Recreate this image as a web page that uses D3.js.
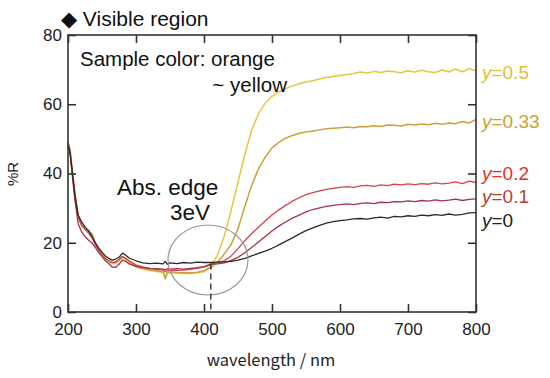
<!DOCTYPE html>
<html><head><meta charset="utf-8">
<script src="https://cdn.jsdelivr.net/npm/d3@7/dist/d3.min.js"></script>
<style>body{margin:0;background:#fff;}svg{display:block;font-family:"Liberation Sans",Arial,sans-serif;}</style>
</head><body><svg id="c" width="550" height="378"></svg>
<script>
const wavelengths = [200,203,206,210,215,220,225,230,235,240,245,250,255,260,265,270,275,280,285,290,
 300,310,320,330,340,343,346,350,360,370,380,390,400,
 410,420,430,440,450,460,470,480,490,500,510,520,530,540,550,
 560,570,580,590,600,610,620,630,640,650,660,670,680,690,700,710,720,730,740,750,760,770,780,790,800];

const y05 = [48.5,46.5,41,34,27,25,24,23.4,22.2,19.8,18.2,16.8,15.4,14.6,14.0,14.0,14.8,15.8,15.2,14.4,
 13.0,12.4,12.0,11.7,11.4,9.5,11.2,11.4,11.2,11.1,11.1,11.3,11.6,
 13.2,16.5,22,29.5,37.5,45.5,52.5,57.2,60.3,62.3,63.6,64.5,65.3,65.9,66.4,
 66.8,67.3,67.7,68.0,68.3,68.6,68.9,69.3,69.0,69.5,69.2,69.6,69.4,69.1,69.7,69.3,69.8,69.4,69.2,69.9,69.3,70.2,69.4,70.3,69.6];

const y033 = [49,47,41.5,34.5,27.5,25.2,24.2,23.6,22.6,20.2,18.4,17.0,15.6,14.8,14.2,14.2,15.0,16.0,15.4,14.5,
 13.2,12.6,12.2,11.9,11.6,9.8,11.5,11.6,11.4,11.3,11.3,11.5,11.9,
 12.8,14.3,16.8,19.5,24,30.5,36.5,41.3,44.7,47.4,49.0,50.2,51.0,51.6,52.0,
 52.3,52.6,52.9,53.1,53.2,53.4,53.2,53.6,53.5,53.8,53.6,54.0,53.9,53.7,54.2,54.0,54.3,54.1,54.5,54.2,54.6,54.4,55.0,54.6,55.6];

const y02 = [49,46.5,41,34,27.5,25,23.8,22.8,21.5,19.6,17.8,16.5,15.4,14.8,14.3,14.5,15.2,16.0,15.5,14.8,
 13.6,13.0,12.6,12.3,12.1,11.6,12.0,12.1,12.0,12.1,12.3,12.6,13.0,
 13.7,14.3,14.8,16.2,18.3,20.6,22.6,24.5,26.3,28.0,29.5,30.8,32.0,33.0,33.9,
 34.5,35.0,35.4,35.7,36.0,36.2,36.0,36.4,36.6,36.3,36.7,36.5,36.9,36.7,37.0,36.8,37.1,36.9,37.3,37.0,37.2,37.6,37.1,37.8,37.4];

const y01 = [48.5,46,40,32.5,25.5,23.2,21.8,20.8,20.0,18.7,17.2,16.0,14.8,14.0,13.0,12.9,13.8,15.0,14.6,13.9,
 13.2,12.8,12.6,12.5,12.4,12.2,12.5,12.4,12.5,12.4,12.6,12.8,13.1,
 13.8,13.9,14.2,14.9,15.8,17.1,18.6,20.2,21.8,23.4,24.8,26.0,27.1,28.0,28.9,
 29.6,30.1,30.5,30.8,31.0,31.2,31.0,31.4,31.5,31.3,31.7,31.6,31.9,31.8,32.1,31.9,32.2,32.0,32.4,32.1,32.3,32.6,32.2,32.5,32.7];

const y00 = [48,46,41,34,28,26,24.6,23.5,22,20,18.5,17.3,16.2,15.5,15,15.3,15.8,17,16.4,15.6,
 14.8,14.2,14.0,14.1,13.9,14.6,13.8,14.2,14.0,14.3,14.1,14.4,14.3,
 14.3,14.4,14.5,14.6,15.0,15.5,16.2,16.9,17.6,18.4,19.4,20.4,21.4,22.5,23.5,
 24.3,25.0,25.7,26.1,26.4,26.6,26.9,27.0,26.8,27.2,27.4,27.1,27.6,27.5,27.8,27.6,28.0,27.8,28.1,27.9,28.3,28.0,28.2,28.6,28.7];

const seriesNames = ["0.5","0.33","0.2","0.1","0"];
const seriesValues = [y05,y033,y02,y01,y00];
const lineColors = ["#e8c63c","#cfa03a","#d8404c","#a0344a","#2a2a2a"];
const labelColors = ["#e0c030","#c8a032","#e0302a","#b04030","#222222"];
const labelY = [79,128,180,203,227];

const xTicks = [200,300,400,500,600,700,800];
const yTicks = [0,20,40,60,80];
const edgeWavelength = 410;

const svg = d3.select("#c");
const x = d3.scaleLinear().domain([200,800]).range([68,476]);
const y = d3.scaleLinear().domain([0,80]).range([312,35]);

// curves
const line = d3.line().x(d=>x(d[0])).y(d=>y(d[1]));
seriesValues.forEach((vals,i)=>{
  const pts = wavelengths.map((w,j)=>[w,vals[j]]);
  svg.append("path").attr("d",line(pts)).attr("fill","none")
    .attr("stroke",lineColors[i]).attr("stroke-width",i<2?1.5:1.3).attr("stroke-linejoin","round");
});

// frame
svg.append("rect").attr("x",x(200)).attr("y",y(80)).attr("width",x(800)-x(200)).attr("height",y(0)-y(80))
  .attr("fill","none").attr("stroke","#333").attr("stroke-width",1.6);

// axes with inward ticks
const gB = svg.append("g").attr("transform",`translate(0,${y(0)})`)
  .call(d3.axisBottom(x).tickValues(xTicks).tickSizeInner(-8).tickSizeOuter(0).tickPadding(11));
const gT = svg.append("g").attr("transform",`translate(0,${y(80)})`)
  .call(d3.axisTop(x).tickValues(xTicks).tickSizeInner(-8).tickSizeOuter(0).tickFormat(""));
const gL = svg.append("g").attr("transform",`translate(${x(200)},0)`)
  .call(d3.axisLeft(y).tickValues(yTicks).tickSizeInner(-8).tickSizeOuter(0).tickPadding(6));
const gR = svg.append("g").attr("transform",`translate(${x(800)},0)`)
  .call(d3.axisRight(y).tickValues(yTicks).tickSizeInner(-8).tickSizeOuter(0).tickFormat(""));
[gB,gT,gL,gR].forEach(g=>{
  g.select(".domain").remove();
  g.selectAll("line").attr("stroke","#333").attr("stroke-width",1.6);
  g.selectAll("text").attr("font-size",17).attr("fill","#222").attr("font-family","'Liberation Sans',Arial,sans-serif");
});

// axis titles
svg.append("text").attr("x",271).attr("y",366).attr("text-anchor","middle")
  .attr("font-size",16.5).attr("fill","#222").attr("font-family","'Noto Sans CJK JP','Noto Sans',sans-serif")
  .text("wavelength / nm");
svg.append("text").attr("transform","translate(18,174) rotate(-90)").attr("text-anchor","middle")
  .attr("font-size",15).attr("fill","#222").text("%R");

// title
svg.append("text").attr("x",61).attr("y",26).attr("font-size",21).attr("fill","#111").text("\u25C6 Visible region");

// annotations
svg.append("text").attr("x",80).attr("y",66).attr("font-size",20.5).attr("fill","#111").text("Sample color: orange");
svg.append("text").attr("x",287).attr("y",92).attr("text-anchor","end").attr("font-size",20.5).attr("fill","#111").text("~ yellow");
svg.append("text").attr("x",117).attr("y",195).attr("font-size",22.5).attr("fill","#111").text("Abs. edge");
svg.append("text").attr("x",170).attr("y",220).attr("font-size",22.5).attr("fill","#111").text("3eV");

// ellipse and dashed edge line
svg.append("ellipse").attr("cx",208).attr("cy",260).attr("rx",40).attr("ry",35)
  .attr("fill","none").attr("stroke","#999").attr("stroke-width",1.2);
svg.append("line").attr("x1",x(edgeWavelength)).attr("x2",x(edgeWavelength)).attr("y1",y(14)).attr("y2",y(0))
  .attr("stroke","#333").attr("stroke-width",1.4).attr("stroke-dasharray","6,4");

// series labels
seriesNames.forEach((n,i)=>{
  const t = svg.append("text").attr("x",482).attr("y",labelY[i]).attr("font-size",19).attr("fill",labelColors[i]);
  t.append("tspan").attr("font-style","italic").text("y");
  t.append("tspan").text("=" + n);
});
</script></body></html>
